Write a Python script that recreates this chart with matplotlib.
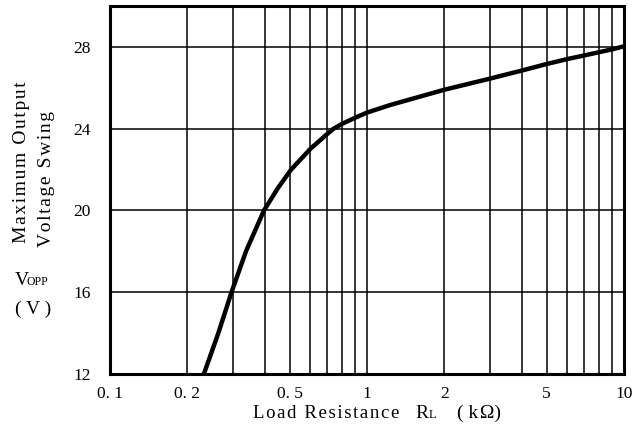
import matplotlib.pyplot as plt
from matplotlib.ticker import FixedLocator, NullFormatter

# Curve (load resistance in kOhm, Vopp in V)
load_k = [0.232, 0.264, 0.297, 0.338, 0.397, 0.45, 0.506, 0.605, 0.70, 0.739, 0.8,
          0.9, 1.0, 1.23, 2.0, 3.0, 4.0, 5.0, 6.0, 7.0, 8.0, 9.0, 10.0]
vopp = [12.0, 14.0, 16.0, 18.0, 20.0, 21.1, 22.0, 23.05, 23.75, 24.0, 24.25,
        24.55, 24.8, 25.17, 25.92, 26.46, 26.86, 27.18, 27.42, 27.6,
        27.76, 27.9, 28.05]

x_ticks = [0.1, 0.2, 0.5, 1, 2, 5, 10]
x_tick_labels = ["0.1", "0.2", "0.5", "1", "2", "5", "10"]
y_ticks = [12, 16, 20, 24, 28]

plt.rcParams['font.family'] = ['Liberation Serif', 'DejaVu Serif']

HAIR = '\u200a'


def spaced(s, gap=HAIR):
    # slightly wide letter spacing like the printed datasheet
    return gap.join(s)


fig = plt.figure(figsize=(6.4, 4.33), dpi=100)
ax = fig.add_axes([0.172, 0.137, 0.803, 0.848])

ax.set_xscale('log')
ax.set_xlim(0.1, 10)
ax.set_ylim(12, 30)

ax.plot(load_k, vopp, color='black', lw=3.2, solid_joinstyle='round',
        solid_capstyle='butt')

minor = [m * d for d in (0.1, 1) for m in range(2, 10)]
ax.xaxis.set_major_locator(FixedLocator(x_ticks))
ax.xaxis.set_minor_locator(FixedLocator(minor))
ax.xaxis.set_minor_formatter(NullFormatter())
ax.set_xticklabels([t.replace('.', '. ') for t in x_tick_labels])
ax.set_yticks(y_ticks)

ax.grid(True, which='both', axis='x', color='black', lw=1.1)
ax.grid(True, which='major', axis='y', color='black', lw=1.1)
ax.tick_params(which='both', length=0, labelsize=12.5)
ax.tick_params(axis='y', pad=14)
ax.tick_params(axis='x', pad=9)

for s in ax.spines.values():
    s.set_linewidth(2.2)

fig.text(0.034, 0.438, spaced("Maximum Output"), rotation=90,
         ha='center', va='bottom', fontsize=14)
fig.text(0.072, 0.43, spaced("Voltage Swing"), rotation=90,
         ha='center', va='bottom', fontsize=14)
fig.text(0.023, 0.342, "V", fontsize=14, ha='left', va='baseline')
fig.text(0.042, 0.342, "OPP", fontsize=8.5, ha='left', va='baseline')
fig.text(0.051, 0.274, "( V )", fontsize=14, ha='center', va='baseline')

fig.text(0.395, 0.035, spaced("Load Resistance"), fontsize=13.5, ha='left', va='baseline')
fig.text(0.649, 0.035, "R", fontsize=14, ha='left', va='baseline')
fig.text(0.670, 0.035, "L", fontsize=9, ha='left', va='baseline')
fig.text(0.714, 0.035, "( k" + HAIR + "Ω)", fontsize=14, ha='left', va='baseline')

fig.savefig("out.png", dpi=100)
